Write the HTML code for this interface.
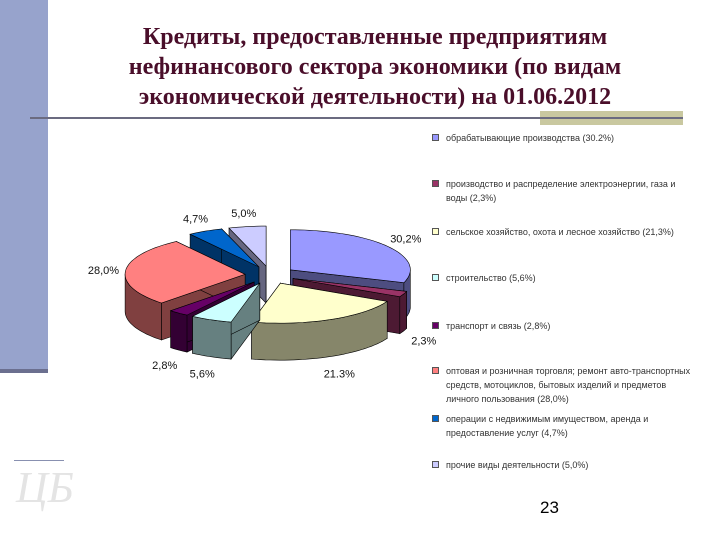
<!DOCTYPE html>
<html><head><meta charset="utf-8">
<style>
body{margin:0;width:720px;height:540px;background:#fff;overflow:hidden;position:relative;font-family:"Liberation Sans","DejaVu Sans",sans-serif}
.title{position:absolute;left:40px;top:22px;width:670px;text-align:center;font-family:"Liberation Serif","Noto Serif CJK SC",serif;font-weight:bold;font-size:24px;line-height:30px;color:#4a0e2a}
.leg{position:absolute;left:432px;font-size:9px;color:#333;line-height:14px;width:262px}
.leg .sq{position:absolute;left:0;top:3px;width:7px;height:7px;border:1px solid #555;box-sizing:border-box}
.leg .t{margin-left:14px}
</style></head><body>
<div style="position:absolute;left:0;top:0;width:48px;height:370px;background:#97a3cc"></div>
<div style="position:absolute;left:0;top:369px;width:48px;height:4px;background:#6b6f8f"></div>
<div class="title">Кредиты, предоставленные предприятиям<br>нефинансового сектора экономики (по видам<br>экономической деятельности) на 01.06.2012</div>
<div style="position:absolute;left:540px;top:111px;width:143px;height:14px;background:#c9c8a0"></div>
<div style="position:absolute;left:30px;top:117px;width:653px;height:2px;background:#6b6b80"></div>
<svg id="pie" width="460" height="400" style="position:absolute;left:0;top:140px"></svg>
<div id="legend"></div>
<div style="position:absolute;left:14px;top:460px;width:50px;height:1px;background:#8890b0"></div>
<div style="position:absolute;left:16px;top:462px;font-family:'Liberation Serif',serif;font-style:italic;font-size:44px;color:#e4e4e4">ЦБ</div>
<div style="position:absolute;left:540px;top:498px;font-size:17px;color:#000">23</div>
<script>
const categories=["обрабатывающие производства (30.2%)","производство и распределение электроэнергии, газа и воды (2,3%)","сельское хозяйство, охота и лесное хозяйство (21,3%)","строительство (5,6%)","транспорт и связь (2,8%)","оптовая и розничная торговля; ремонт авто-транспортных средств, мотоциклов, бытовых изделий и предметов личного пользования (28,0%)","операции с недвижимым имуществом, аренда и предоставление услуг (4,7%)","прочие виды деятельности (5,0%)"];
const values=[30.2,2.3,21.3,5.6,2.8,28.0,4.7,5.0];
const valueLabels=["30,2%","2,3%","21.3%","5,6%","2,8%","28,0%","4,7%","5,0%"];
const topColors=["#9999ff","#993366","#ffffcc","#ccffff","#660066","#ff8080","#0066cc","#ccccff"];
const sideColors=["#4d4d80","#4d1a33","#86866a","#668080","#330033","#804040","#003366","#666680"];
const legendTops=[131,177,225,271,319,364,412,458];

const svg=document.getElementById('pie');const NS='http://www.w3.org/2000/svg';
const oy=140,cx=270,cy=275-oy,rx=120,ry=40,depth=37,ex=25,ek=0.36;
const total=values.reduce((a,b)=>a+b,0);
function P(x,y){return x.toFixed(1)+','+y.toFixed(1);}
function mk(tag,attrs){const e=document.createElementNS(NS,tag);for(const k in attrs)e.setAttribute(k,attrs[k]);svg.appendChild(e);return e;}
let acc=0;const slices=[];
values.forEach((v,i)=>{const a0=-Math.PI/2+acc/total*2*Math.PI;acc+=v;const a1=-Math.PI/2+acc/total*2*Math.PI;const m=(a0+a1)/2;
 slices.push({i,a0,a1,m,dx:ex*Math.cos(m),dy:ex*Math.sin(m)*ek});});
function arcPts(x,y,a0,a1,off){const pts=[];const n=Math.max(2,Math.ceil((a1-a0)/0.04));for(let k=0;k<=n;k++){const a=a0+(a1-a0)*k/n;pts.push([x+rx*Math.cos(a),y+off+ry*Math.sin(a)]);}return pts;}
const order=slices.slice().sort((a,b)=>Math.sin(a.m)-Math.sin(b.m));
order.forEach(s=>{
 const x=cx+s.dx,y=cy+s.dy;
 [s.a0,s.a1].forEach(a=>{const ex2=x+rx*Math.cos(a),ey2=y+ry*Math.sin(a);
  const p=mk('polygon',{points:[P(x,y),P(ex2,ey2),P(ex2,ey2+depth),P(x,y+depth)].join(' '),fill:sideColors[s.i],stroke:'#000','stroke-width':0.6});
  
  });
 for(let base=-2*Math.PI;base<=2*Math.PI;base+=2*Math.PI){const lo=Math.max(s.a0,base),hi=Math.min(s.a1,base+Math.PI);
  if(hi>lo){const top=arcPts(x,y,lo,hi,0),bot=arcPts(x,y,lo,hi,depth).reverse();
   const p=mk('polygon',{points:top.concat(bot).map(q=>P(q[0],q[1])).join(' '),fill:sideColors[s.i],stroke:'#000','stroke-width':0.6});
   
   }}
 const t=arcPts(x,y,s.a0,s.a1,0);t.unshift([x,y]);
 const p=mk('polygon',{points:t.map(q=>P(q[0],q[1])).join(' '),fill:topColors[s.i],stroke:'#000','stroke-width':0.6});
 
 
});
slices.forEach(s=>{const c=Math.cos(s.m),sn=Math.sin(s.m);
 const lx=cx+s.dx+(rx+22)*c,ly=cy+s.dy+(ry+14)*sn+(sn>0?depth+4:0)+4;
 const t=mk('text',{x:lx.toFixed(1),y:ly.toFixed(1),'font-size':11,'text-anchor':'middle',fill:'#111','font-family':'Liberation Sans, sans-serif'});
 t.textContent=valueLabels[s.i];
 
 });
const L=document.getElementById('legend');
categories.forEach((c,i)=>{const d=document.createElement('div');d.className='leg';d.style.top=legendTops[i]+'px';
 
 
 d.innerHTML='<span class="sq" style="background:'+topColors[i]+'"></span><div class="t">'+c+'</div>';L.appendChild(d);});
</script>
</body></html>
